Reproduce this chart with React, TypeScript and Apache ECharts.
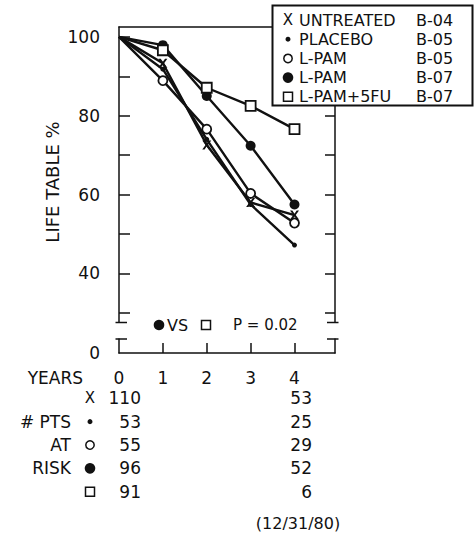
import React, { useEffect, useRef } from "react";
import * as echarts from "echarts";

// ---- data ----
const years = [0, 1, 2, 3, 4];
const seriesKeys = ["UNTREATED B-04", "PLACEBO B-05", "L-PAM B-05", "L-PAM B-07", "L-PAM+5FU B-07"];
const legendNames = ["UNTREATED", "PLACEBO", "L-PAM", "L-PAM", "L-PAM+5FU"];
const trialCodes = ["B-04", "B-05", "B-05", "B-07", "B-07"];
const markerKinds = ["x", "dot", "open", "filled", "square"];

const untreated = [100, 93.3, 72.6, 58.0, 54.8];
const placebo = [100, 91.8, 74.0, 57.5, 47.2];
const lpamB05 = [100, 88.9, 76.6, 60.3, 52.8];
const lpamB07 = [100, 97.9, 85.0, 72.4, 57.5];
const lpam5fu = [100, 96.6, 87.1, 82.5, 76.6];
const allValues = [untreated, placebo, lpamB05, lpamB07, lpam5fu];

const yTickValues = [30, 40, 50, 60, 70, 80, 90, 100];
const yLabelValues = [40, 60, 80, 100];
const yearTickValues = [1, 2, 3, 4];
const yearLabelValues = [0, 1, 2, 3, 4];
const lowerYLabelValues = [0];

const yAxisTitle = "LIFE TABLE %";
const xAxisTitle = "YEARS";
const riskRowLabels = ["", "# PTS", "AT", "RISK", ""];
const riskAtStart = [110, 53, 55, 96, 91];
const riskAtEnd = [53, 25, 29, 52, 6];
const compareText = "VS";
const pValueText = "P = 0.02";
const dateNote = "(12/31/80)";

// ---- styling ----
const INK = "#111";
const FONT = "DejaVu Sans";
const X_PATH = "path://M0 0L2.6 0L5 3.4L7.4 0L10 0L6.4 5L10 10L7.4 10L5 6.6L2.6 10L0 10L3.6 5Z";

function seriesSymbol(kind: string) {
  switch (kind) {
    case "x":
      return { symbol: X_PATH, symbolSize: 9, itemStyle: { color: INK } };
    case "dot":
      return { symbol: "circle", symbolSize: 5, itemStyle: { color: INK } };
    case "open":
      return { symbol: "circle", symbolSize: 9, itemStyle: { color: "#fff", borderColor: INK, borderWidth: 1.8 } };
    case "filled":
      return { symbol: "circle", symbolSize: 10, itemStyle: { color: INK } };
    default:
      return { symbol: "rect", symbolSize: 10, itemStyle: { color: "#fff", borderColor: INK, borderWidth: 1.8 } };
  }
}

function txt(text: string, x: number, y: number, size: number, align: string = "left", extra: any = {}) {
  return {
    type: "text",
    z: 110,
    x,
    y,
    ...extra,
    style: {
      text,
      fill: INK,
      fontSize: size,
      fontFamily: FONT,
      align,
      textAlign: align,
      verticalAlign: "middle",
      textVerticalAlign: "middle",
    },
  };
}

function markerGraphic(kind: string, cx: number, cy: number) {
  switch (kind) {
    case "x":
      return txt("X", cx, cy, 15, "center");
    case "dot":
      return { type: "circle", z: 110, shape: { cx, cy, r: 2.5 }, style: { fill: INK } };
    case "open":
      return { type: "circle", z: 110, shape: { cx, cy, r: 4.2 }, style: { fill: "#fff", stroke: INK, lineWidth: 1.5 } };
    case "filled":
      return { type: "circle", z: 110, shape: { cx, cy, r: 5.3 }, style: { fill: INK } };
    default:
      return { type: "rect", z: 110, shape: { x: cx - 4.5, y: cy - 4.5, width: 9, height: 9 }, style: { fill: "#fff", stroke: INK, lineWidth: 1.5 } };
  }
}

function seg(x1: number, y1: number, x2: number, y2: number) {
  return { type: "line", z: 105, shape: { x1, y1, x2, y2 }, style: { stroke: INK, lineWidth: 1.5 } };
}

export default function App() {
  const ref = useRef<HTMLDivElement>(null);

  useEffect(() => {
    if (!ref.current) return;
    const chart = echarts.init(ref.current, undefined, { renderer: "svg" });

    const xMax = 4.923;
    const yMin = 27.7;
    const yMax = 102.5;
    const axisLine = { show: true, onZero: false, lineStyle: { color: INK, width: 1.5 } };
    const tickStyle = { color: INK, width: 1.5 };

    const series = allValues.map((vals, i) => ({
      name: seriesKeys[i],
      type: "line",
      xAxisIndex: 0,
      yAxisIndex: 0,
      data: years.map((yr, j) => (j === 0 ? { value: [yr, vals[j]], symbol: "none" } : [yr, vals[j]])),
      lineStyle: { color: INK, width: 2.4 },
      ...seriesSymbol(markerKinds[i]),
      showSymbol: true,
      z: 3 + i,
    }));

    const graphics: any[] = [];
    // broken-axis serifs
    graphics.push(seg(115.5, 322.5, 127, 322.5));
    graphics.push(seg(115.5, 339, 127, 339));
    graphics.push(seg(327, 322.5, 338.5, 322.5));
    graphics.push(seg(327, 339, 338.5, 339));

    // y-axis title
    graphics.push(txt(yAxisTitle, 52, 182, 18, "center", { rotation: Math.PI / 2 }));

    // comparison note
    graphics.push(markerGraphic("filled", 159, 325));
    graphics.push(txt(compareText, 167, 325, 16, "left"));
    graphics.push(markerGraphic("square", 206, 325));
    graphics.push(txt(pValueText, 233, 325, 15, "left"));

    // legend box
    graphics.push({
      type: "rect",
      z: 100,
      shape: { x: 272.5, y: 5.5, width: 200, height: 100 },
      style: { fill: "#fff", stroke: INK, lineWidth: 2 },
    });
    legendNames.forEach((name, i) => {
      const cy = 20 + i * 19.2;
      graphics.push(markerGraphic(markerKinds[i], 288, cy));
      graphics.push(txt(name, 299, cy, 16, "left"));
      graphics.push(txt(trialCodes[i], 416, cy, 16, "left"));
    });

    // at-risk table
    graphics.push(txt(xAxisTitle, 83, 378, 17, "right"));
    riskAtStart.forEach((n, i) => {
      const cy = 398.3 + i * 23.35;
      if (riskRowLabels[i]) graphics.push(txt(riskRowLabels[i], 71, cy, 17, "right"));
      graphics.push(markerGraphic(markerKinds[i], 90, cy));
      graphics.push(txt(String(n), 141, cy, 17, "right"));
      graphics.push(txt(String(riskAtEnd[i]), 312, cy, 17, "right"));
    });
    graphics.push(txt(dateNote, 298, 523, 16, "center"));

    chart.setOption({
      animation: false,
      backgroundColor: "#fff",
      textStyle: { fontFamily: FONT, color: INK },
      grid: [
        { left: 119, top: 27, width: 216, height: 295 },
        { left: 119, top: 339, width: 216, height: 14 },
      ],
      xAxis: [
        {
          gridIndex: 0, type: "value", position: "top", min: 0, max: xMax,
          axisLine, axisTick: { show: false }, axisLabel: { show: false }, splitLine: { show: false },
        },
        {
          gridIndex: 1, type: "value", position: "bottom", min: 0, max: xMax,
          axisLine,
          axisTick: { show: true, inside: true, length: 10, customValues: yearTickValues, lineStyle: tickStyle },
          axisLabel: { customValues: yearLabelValues, margin: 16, fontSize: 17, color: INK, fontFamily: FONT },
          splitLine: { show: false },
        },
      ],
      yAxis: [
        {
          gridIndex: 0, type: "value", position: "left", min: yMin, max: yMax,
          axisLine,
          axisTick: { show: true, inside: true, length: 11, customValues: yTickValues, lineStyle: tickStyle },
          axisLabel: { customValues: yLabelValues, margin: 19, fontSize: 17, color: INK, fontFamily: FONT },
          splitLine: { show: false },
        },
        {
          gridIndex: 0, type: "value", position: "right", min: yMin, max: yMax,
          axisLine,
          axisTick: { show: true, inside: true, length: 10, customValues: yTickValues, lineStyle: tickStyle },
          axisLabel: { show: false },
          splitLine: { show: false },
        },
        {
          gridIndex: 1, type: "value", position: "left", min: 0, max: 1,
          axisLine, axisTick: { show: false },
          axisLabel: { customValues: lowerYLabelValues, margin: 19, fontSize: 17, color: INK, fontFamily: FONT },
          splitLine: { show: false },
        },
        {
          gridIndex: 1, type: "value", position: "right", min: 0, max: 1,
          axisLine, axisTick: { show: false }, axisLabel: { show: false }, splitLine: { show: false },
        },
      ],
      series,
      graphic: graphics,
    });

    return () => chart.dispose();
  }, []);

  return (
    <div
      ref={ref}
      style={{ position: "absolute", left: 0, top: 0, width: 476, height: 533, background: "#fff" }}
    />
  );
}
